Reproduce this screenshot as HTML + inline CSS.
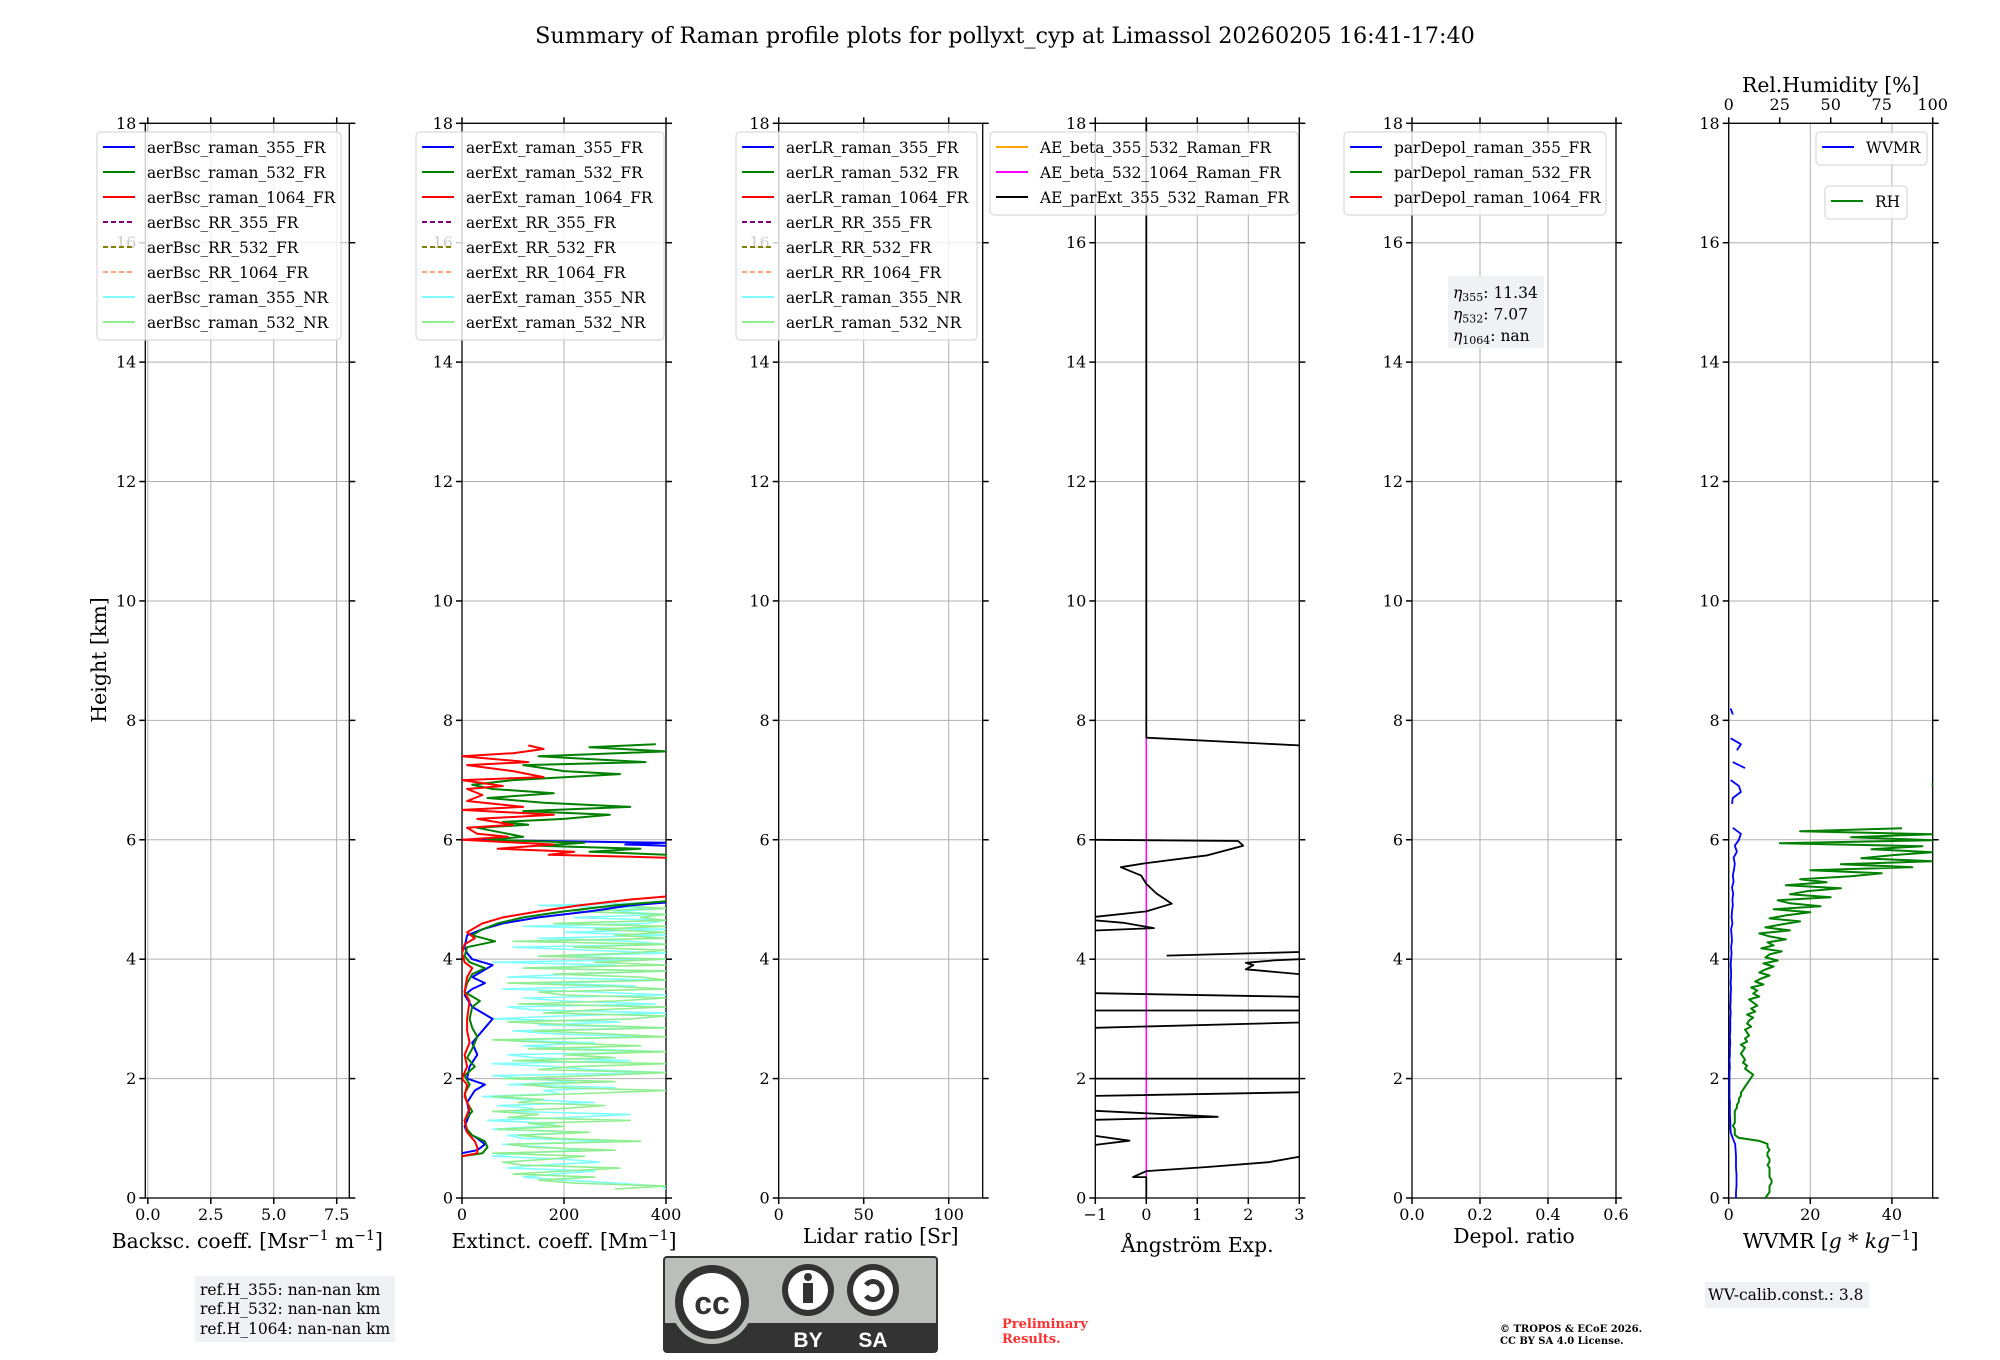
<!DOCTYPE html>
<html><head><meta charset="utf-8"><title>Raman profile summary</title>
<style>
html,body{margin:0;padding:0;background:#fff;}
svg{display:block;font-family:"DejaVu Serif","Liberation Serif",serif;}
</style></head>
<body>
<svg id="fig" width="2000" height="1360" viewBox="0 0 2000 1360" xmlns="http://www.w3.org/2000/svg">
<rect x="0" y="0" width="2000" height="1360" fill="#fff"/>
<text x="1005" y="43" font-size="22.3" text-anchor="middle">Summary of Raman profile plots for pollyxt_cyp at Limassol 20260205 16:41-17:40</text>
<text transform="translate(106,660) rotate(-90)" font-size="20.5" text-anchor="middle">Height [km]</text>
<g id="plots"></g>
<g>
<rect x="195" y="1276" width="200" height="66" fill="#f0f1f5"/>
<text x="200" y="1295" font-size="15.5">ref.H_355: nan-nan km</text>
<text x="200" y="1314" font-size="15.5">ref.H_532: nan-nan km</text>
<text x="200" y="1334" font-size="15.5">ref.H_1064: nan-nan km</text>
</g>
<g>
<rect x="664" y="1257" width="273" height="95" rx="3" fill="#bbbfbb" stroke="#333" stroke-width="2"/>
<rect x="664" y="1323" width="273" height="29" fill="#333"/>
<circle cx="712" cy="1302" r="42" fill="#bbbfbb"/>
<circle cx="712" cy="1302" r="37" fill="#333"/>
<circle cx="712" cy="1302" r="29" fill="#fff"/>
<text x="712" y="1314" font-family="Liberation Sans,sans-serif" font-weight="bold" font-size="32" text-anchor="middle" fill="#333">cc</text>
<circle cx="808" cy="1290" r="26" fill="#333"/><circle cx="808" cy="1290" r="20" fill="#fff"/>
<circle cx="808" cy="1277" r="4" fill="#333"/><rect x="803" y="1283" width="10" height="20" fill="#333"/>
<circle cx="873" cy="1290" r="26" fill="#333"/><circle cx="873" cy="1290" r="20" fill="#fff"/>
<path d="M866 1285 A9 9 0 1 1 866 1296" fill="none" stroke="#333" stroke-width="5"/>
<text x="808" y="1347" font-family="Liberation Sans,sans-serif" font-weight="bold" font-size="21" text-anchor="middle" fill="#fff">BY</text>
<text x="873" y="1347" font-family="Liberation Sans,sans-serif" font-weight="bold" font-size="21" text-anchor="middle" fill="#fff">SA</text>
</g>
<text font-size="13" font-weight="bold" fill="#ff3030"><tspan x="1002" y="1328">Preliminary</tspan><tspan x="1002" y="1343">Results.</tspan></text>
<text font-size="10" font-weight="bold"><tspan x="1500" y="1332">© TROPOS &amp; ECoE 2026.</tspan><tspan x="1500" y="1344">CC BY SA 4.0 License.</tspan></text>
<g>
<rect x="1705" y="1282" width="164" height="26" fill="#f0f1f5"/>
<text x="1708" y="1300" font-size="15.5">WV-calib.const.: 3.8</text>
</g>
</svg>
<script>
// ---------- data ----------
var heightTicks = [0,2,4,6,8,10,12,14,16,18];
var bscTicks = [0.0,2.5,5.0,7.5];
var bscTickLabels = ["0.0","2.5","5.0","7.5"];
var extTicks = [0,200,400];
var lrTicks = [0,50,100];
var aeTicks = [-1,0,1,2,3];
var aeTickLabels = ["\u22121","0","1","2","3"];
var depolTicks = [0.0,0.2,0.4,0.6];
var depolTickLabels = ["0.0","0.2","0.4","0.6"];
var wvTicks = [0,20,40];
var rhTicks = [0,25,50,75,100];

var ext355H = [0.75,0.8,0.9,1.0,1.1,1.2,1.4,1.6,1.8,1.9,2.0,2.2,2.4,2.6,2.8,3.0,3.1,3.2,3.4,3.5,3.6,3.7,3.8,3.9,4.0,4.1,4.2,4.4,4.5,4.6,4.7,4.8,4.9,4.95,5.0,5.9,5.92,5.95,6.0];
var ext355V = [0,30,45,30,10,5,15,10,25,45,10,15,30,20,40,60,40,20,5,20,45,20,40,60,20,10,5,10,40,80,150,250,330,400,null,400,320,400,0];
var ext532H = [0.7,0.75,0.85,0.95,1.05,1.15,1.3,1.45,1.6,1.75,1.9,2.05,2.2,2.35,2.5,2.7,2.85,3.0,3.2,3.3,3.45,3.6,3.75,3.85,3.95,4.05,4.2,4.3,4.4,4.5,4.6,4.7,4.8,4.9,4.97,5.0,5.75,5.8,5.85,5.9,5.95,6.0,6.05,6.15,6.2,6.25,6.3,6.35,6.42,6.48,6.55,6.62,6.7,6.78,6.85,6.92,7.0,7.1,7.15,7.25,7.3,7.4,7.48,7.55,7.6];
var ext532V = [0,40,50,45,20,10,5,20,10,5,15,5,25,10,20,30,20,15,20,35,5,10,20,45,15,5,10,65,20,40,70,120,200,300,400,null,400,250,350,150,240,50,120,60,30,130,80,200,290,120,330,160,50,180,60,20,100,310,200,120,360,150,400,250,380];
var ext1064H = [0.7,0.75,0.85,0.95,1.1,1.3,1.5,1.7,1.9,2.0,2.2,2.4,2.6,2.8,3.0,3.3,3.45,3.7,3.85,3.95,4.1,4.25,4.35,4.45,4.6,4.7,4.8,4.9,5.0,5.05,5.1,5.7,5.75,5.8,5.85,5.92,6.0,6.05,6.1,6.2,6.25,6.35,6.42,6.5,6.55,6.65,6.75,6.85,6.9,7.0,7.05,7.15,7.25,7.3,7.4,7.45,7.52,7.58];
var ext1064V = [0,30,30,25,10,5,15,5,10,0,10,5,15,10,10,15,5,10,20,5,0,5,25,10,40,80,150,230,330,400,null,400,170,220,70,180,0,90,30,10,100,30,180,0,120,10,40,10,80,0,160,100,10,130,0,100,160,130];
var extNR355V = [400,390,300,200,120,180,260,90,150,270,200,60,110,230,170,80,300,120,90,240,60,150,180,50,210,330,100,140,70,260,120,40,190,160,300,90,220,130,60,400,250,180,60,330,140,90,400,220,120,260,70,350,180,100,400,150,310,60,200,400,140,90,380,200,120,400,260,80,340,160,400,90,220,400,130,300,60,400,180,400,250,100,400,330,150,400,200,400,120,360,400,220,400,300,400,150,400];
var extNR532V = [300,400,220,150,260,100,200,310,120,80,170,240,60,300,140,90,350,180,110,250,70,200,130,330,90,150,60,200,280,110,160,60,240,400,180,120,300,80,260,400,150,220,400,100,300,200,400,130,350,180,60,400,280,140,400,220,90,330,400,160,260,400,110,300,400,200,150,400,280,90,400,350,180,400,120,400,260,400,150,330,400,220,400,100,400,300,400,260,400,180,400,350,400,220,400,300,300];

var aeH = [0.0,0.35,0.35,0.45,0.52,0.6,0.69,0.72,null,1.06,1.04,0.96,0.89,0.87,null,1.48,1.46,1.36,1.31,1.29,null,1.79,1.77,1.71,1.69,null,2.01,2.0,2.0,1.99,null,2.96,2.94,2.85,2.83,null,3.15,3.14,3.14,3.13,null,3.45,3.43,3.37,3.35,null,4.13,4.12,4.06,null,4.01,4.0,3.98,3.94,3.9,3.83,3.75,3.74,null,4.49,4.48,4.52,4.61,4.65,4.66,null,4.7,4.71,4.8,4.93,5.1,5.26,5.4,5.54,5.61,5.74,5.9,5.98,6.0,6.01,null,7.58,7.71,18.0];
var aeV = [0,0,-0.26,0,1.2,2.4,3,4,null,-2,-1,-0.33,-1,-2,null,-2,-1,1.4,-1,-2,null,4,3,-1,-2,null,-2,-1,3,4,null,4,3,-1,-2,null,-2,-1,3,4,null,-2,-1,3,4,null,4,3,0.4,null,4,3,2.5,1.95,2.1,1.95,3,4,null,-2,-1,0.15,-0.45,-1,-2,null,-2,-1,0,0.5,0.2,0,-0.1,-0.5,0,1.2,1.9,1.8,-1,-2,null,3,0,0];
var ae532H = [0,18];
var ae532V = [0,0];

var rhV = [18,19,20,20,20,21,21,20,20,20,20,19,20,20,19,19,20,19,19,15,5,3,3,3,2,3,3,3,3,3,4,4,5,5,6,6,7,8,9,10,11,12,10,8,9,7,8,7,6,7,8,6,9,8,10,9,8,11,9,10,12,9,13,11,14,12,10,15,12,14,11,17,13,16,20,15,18,22,17,24,18,20,26,16,22,19,28,20,15,30,18,26,35,20,28,40,22,45,30,24,50,30,38,55,28,48,35,60,75,40,90,55,100,65,80,100,70,95,25,100,60,100,35,85,null,95,null,null,null,82,null,null,null,null,null,null,null,100,100];
var wvV = [1.8,1.8,1.9,1.9,1.9,1.8,1.8,1.8,1.7,1.6,1.0,0.5,0.4,0.4,0.3,0.3,0.3,0.2,0.2,0.2,0.2,0.2,0.3,0.2,0.3,0.3,0.4,0.3,0.4,0.4,0.4,0.5,0.4,0.5,0.5,0.6,0.5,0.6,0.6,0.5,0.6,0.7,0.6,0.8,0.7,0.6,0.9,0.7,0.8,1.0,0.9,1.1,0.8,1.2,1.0,1.3,1.5,1.2,2.0,1.5,2.5,3.0,1.0,null,1.5,null,0.8,1.0,3.0,2.5,0.5,null,4.0,1.0,null,2.0,3.0,0.5,null,4.5,null,1.0,0.5,null,4.5];

// ---------- layout ----------
var SVGNS = "http://www.w3.org/2000/svg";
var Y0 = 1198, YTOP = 123.3, PW = 204;
function yScale(h){ return Y0 - h*(Y0-YTOP)/18; }
var plots = document.getElementById('plots');
function mk(tag, attrs, parent){
  var e = document.createElementNS(SVGNS, tag);
  for (var k in attrs) e.setAttribute(k, attrs[k]);
  (parent||plots).appendChild(e); return e;
}
function lineSeries(g, xs, H, V, color, width, name, clipId){
  var d = "", pen = false;
  for (var i=0;i<H.length;i++){
    if (H[i]===null || V[i]===null){ pen=false; continue; }
    d += (pen?"L":"M") + xs(V[i]).toFixed(1) + " " + yScale(H[i]).toFixed(1);
    pen = true;
  }
  var p = mk('path', {d:d, fill:'none', stroke:color, 'stroke-width':width, 'clip-path':'url(#'+clipId+')', 'stroke-linejoin':'round'}, g);
  
  
  return p;
}
var defs = mk('defs', {});

function panel(idx, left, xmin, xmax, ticks, tickLabels, xlabel, labelY, opts){
  var g = mk('g', {});
  
  
  var xs = function(v){ return left + (v - xmin)/(xmax - xmin)*PW; };
  var cp = mk('clipPath', {id:'clip'+idx}, defs);
  mk('rect', {x:left, y:YTOP, width:PW, height:Y0-YTOP}, cp);
  var grid = mk('g', {stroke:'#b0b0b0', 'stroke-width':1}, g);
  
  
  heightTicks.forEach(function(h){ mk('line', {x1:left, x2:left+PW, y1:yScale(h), y2:yScale(h)}, grid); });
  ticks.forEach(function(t){ mk('line', {x1:xs(t), x2:xs(t), y1:YTOP, y2:Y0}, grid); });
  var sp = mk('rect', {x:left, y:YTOP, width:PW, height:Y0-YTOP, fill:'none', stroke:'#000', 'stroke-width':1.3}, g);
  
  
  var yt = mk('g', {stroke:'#000', 'stroke-width':1.5}, g);
  
  
  heightTicks.forEach(function(h){
    var y = yScale(h);
    mk('line', {x1:left-6, x2:left, y1:y, y2:y}, yt);
    mk('line', {x1:left+PW, x2:left+PW+6, y1:y, y2:y}, yt);
    var t = mk('text', {x:left-9, y:y+5.5, 'font-size':16, 'text-anchor':'end', stroke:'none', fill:'#000'}, yt);
    t.textContent = h;
  });
  var xt = mk('g', {stroke:'#000', 'stroke-width':1.5}, g);
  
  
  ticks.forEach(function(v, i){
    var x = xs(v);
    mk('line', {x1:x, x2:x, y1:Y0, y2:Y0+6}, xt);
    if (!opts.noTopTicks) mk('line', {x1:x, x2:x, y1:YTOP-6, y2:YTOP}, xt);
    var t = mk('text', {x:x, y:1220, 'font-size':16, 'text-anchor':'middle', stroke:'none', fill:'#000'}, xt);
    t.textContent = tickLabels ? tickLabels[i] : v;
  });
  var lab = mk('text', {x:left+PW/2, y:labelY, 'font-size':20.3, 'text-anchor':'middle'}, g);
  
  
  lab.innerHTML = xlabel;
  return {g:g, xs:xs, clip:'clip'+idx, left:left};
}

function legend(g, x, y, w, entries, key){
  var lg = mk('g', {}, g);
  
  
  mk('rect', {x:x, y:y, width:w, height:entries.length*25+8, rx:4, fill:'#fff', 'fill-opacity':0.8, stroke:'#d0d0d0'}, lg);
  entries.forEach(function(en, i){
    var cy = y + 15 + i*25;
    var ln = mk('line', {x1:x+6, x2:x+38, y1:cy, y2:cy, stroke:en[1], 'stroke-width':2, 'stroke-dasharray':en[2]?'5,3':'none'}, lg);
    
    
    var t = mk('text', {x:x+50, y:cy+6, 'font-size':15.4}, lg);
    
    
    t.textContent = en[0];
  });
}
function stdEntries(prefix){
  return [[prefix+"_raman_355_FR","#0000ff"],[prefix+"_raman_532_FR","#008000"],[prefix+"_raman_1064_FR","#ff0000"],
    [prefix+"_RR_355_FR","#800080",1],[prefix+"_RR_532_FR","#808000",1],[prefix+"_RR_1064_FR","#ffa07a",1],
    [prefix+"_raman_355_NR","#80ffff"],[prefix+"_raman_532_NR","#90ee90"]];
}
var lefts = [145.3, 462, 778.7, 1095.3, 1412, 1728.7];
function gridH(n, h0, h1){ var a=[]; for (var i=0;i<n;i++) a.push(h0 + i*(h1-h0)/(n-1)); return a; }

var p1 = panel(1, lefts[0], -0.1, 8, bscTicks, bscTickLabels, 'Backsc. coeff. [Msr<tspan dy="-8" font-size="14">\u22121</tspan><tspan dy="8"> m</tspan><tspan dy="-8" font-size="14">\u22121</tspan><tspan dy="8">]</tspan>', 1248, {key:'backscatter'});
legend(p1.g, 97, 132, 244, stdEntries("aerBsc"), 'backscatter-legend');

var p2 = panel(2, lefts[1], 0, 400, extTicks, null, 'Extinct. coeff. [Mm<tspan dy="-8" font-size="14">\u22121</tspan><tspan dy="8">]</tspan>', 1248, {key:'extinction'});
var nrH = gridH(extNR355V.length, 0.15, 4.95);
var nrH2 = gridH(extNR532V.length, 0.15, 4.95);
lineSeries(p2.g, p2.xs, nrH, extNR355V, '#80ffff', 1.6, 'extinction-355-nr-line', p2.clip);
lineSeries(p2.g, p2.xs, nrH2, extNR532V, '#90ee90', 1.6, 'extinction-532-nr-line', p2.clip);
lineSeries(p2.g, p2.xs, ext355H, ext355V, '#0000ff', 2, 'extinction-355-fr-line', p2.clip);
lineSeries(p2.g, p2.xs, ext532H, ext532V, '#008000', 2, 'extinction-532-fr-line', p2.clip);
lineSeries(p2.g, p2.xs, ext1064H, ext1064V, '#ff0000', 2, 'extinction-1064-fr-line', p2.clip);
legend(p2.g, 416, 132, 248, stdEntries("aerExt"), 'extinction-legend');

var p3 = panel(3, lefts[2], 0, 120, lrTicks, null, 'Lidar ratio [Sr]', 1243, {key:'lidar-ratio'});
legend(p3.g, 736, 132, 241, stdEntries("aerLR"), 'lidar-ratio-legend');

var p4 = panel(4, lefts[3], -1, 3, aeTicks, aeTickLabels, '\u00c5ngstr\u00f6m Exp.', 1252, {key:'angstrom'});
lineSeries(p4.g, p4.xs, ae532H, ae532V, '#ff00ff', 1.5, 'ae-beta-532-1064-line', p4.clip);
lineSeries(p4.g, p4.xs, aeH, aeV, '#000000', 1.8, 'ae-parext-355-532-line', p4.clip);
legend(p4.g, 990, 132, 308, [["AE_beta_355_532_Raman_FR","#ffa500"],["AE_beta_532_1064_Raman_FR","#ff00ff"],["AE_parExt_355_532_Raman_FR","#000000"]], 'angstrom-legend');

var p5 = panel(5, lefts[4], 0, 0.6, depolTicks, depolTickLabels, 'Depol. ratio', 1243, {key:'depol'});
legend(p5.g, 1344, 132, 262, [["parDepol_raman_355_FR","#0000ff"],["parDepol_raman_532_FR","#008000"],["parDepol_raman_1064_FR","#ff0000"]], 'depol-legend');
var eb = mk('g', {}, p5.g);


mk('rect', {x:1448, y:276, width:96, height:72, fill:'#f0f1f5'}, eb);
[["355","11.34"],["532","7.07"],["1064","nan"]].forEach(function(r, i){
  var t = mk('text', {x:1453, y:298+i*21.5, 'font-size':15.5}, eb);
  t.innerHTML = '<tspan font-style="italic">\u03b7</tspan><tspan font-size="11" dy="3">'+r[0]+'</tspan><tspan dy="-3">: '+r[1]+'</tspan>';
});

var p6 = panel(6, lefts[5], 0, 50, wvTicks, null, 'WVMR [<tspan font-style="italic">g</tspan> * <tspan font-style="italic">kg</tspan><tspan dy="-8" font-size="14">\u22121</tspan><tspan dy="8">]</tspan>', 1248, {key:'wvmr', noTopTicks:true});
var rhX = function(v){ return lefts[5] + v/100*PW; };
var rhg = mk('g', {stroke:'#000', 'stroke-width':1.5}, p6.g);


rhTicks.forEach(function(v){
  mk('line', {x1:rhX(v), x2:rhX(v), y1:YTOP-6, y2:YTOP}, rhg);
  var t = mk('text', {x:rhX(v), y:110, 'font-size':16, 'text-anchor':'middle', stroke:'none', fill:'#000'}, rhg);
  t.textContent = v;
});
var rht = mk('text', {x:lefts[5]+PW/2, y:92, 'font-size':20.3, 'text-anchor':'middle'}, p6.g);


rht.textContent = 'Rel.Humidity [%]';
var wvH = gridH(wvV.length, 0, 8.4);
var rhH = gridH(rhV.length, 0, 6.95);
lineSeries(p6.g, p6.xs, wvH, wvV, '#0000ff', 1.8, 'wvmr-line', p6.clip);
lineSeries(p6.g, rhX, rhH, rhV, '#008000', 2, 'rh-line', p6.clip);
legend(p6.g, 1816, 132, 111, [["WVMR","#0000ff"]], 'wvmr-legend');
legend(p6.g, 1825, 186, 82, [["RH","#008000"]], 'rh-legend');
</script>
</body></html>
